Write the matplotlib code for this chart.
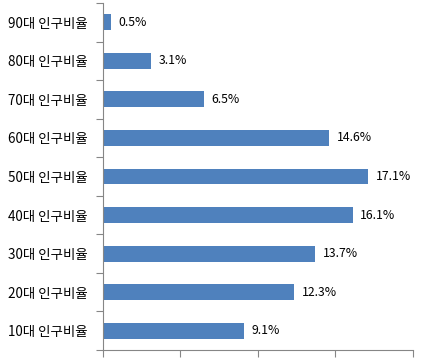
import matplotlib
matplotlib.use("Agg")
import matplotlib.pyplot as plt

plt.rcParams['font.family'] = ['Noto Sans CJK KR', 'DejaVu Sans']

categories = ["10대 인구비율", "20대 인구비율", "30대 인구비율", "40대 인구비율", "50대 인구비율",
              "60대 인구비율", "70대 인구비율", "80대 인구비율", "90대 인구비율"]
values = [9.1, 12.3, 13.7, 16.1, 17.1, 14.6, 6.5, 3.1, 0.5]
value_labels = ["9.1%", "12.3%", "13.7%", "16.1%", "17.1%", "14.6%", "6.5%", "3.1%", "0.5%"]

fig = plt.figure(figsize=(4.35, 3.6), dpi=100)
ax = fig.add_axes([103/435, 10/360, 310/435, 347/360])

y = range(len(categories))
ax.barh(y, values, height=0.41, color="#4F81BD")
for yi, v, lab in zip(y, values, value_labels):
    ax.text(v + 0.5, yi, lab, va="center", ha="left", fontsize=8.8, color="black")

ax.set_xlim(0, 20)
ax.set_ylim(-0.5, len(categories) - 0.5)
ax.set_xticks([0, 5, 10, 15, 20])
ax.set_xticklabels([])
ax.set_yticks([i - 0.5 for i in range(len(categories) + 1)], minor=False)
ax.set_yticklabels([])
ax.set_yticks(list(y), minor=True)
ax.set_yticklabels(categories, minor=True, fontsize=9.7)
ax.tick_params(axis="y", which="minor", length=0, pad=11)
ax.tick_params(axis="y", which="major", length=5, color="#868686", direction="out")
ax.tick_params(axis="x", length=5, color="#868686", direction="out")

for s in ["top", "right"]:
    ax.spines[s].set_visible(False)
for s in ["left", "bottom"]:
    ax.spines[s].set_color("#868686")

fig.savefig("out.png", dpi=100)
